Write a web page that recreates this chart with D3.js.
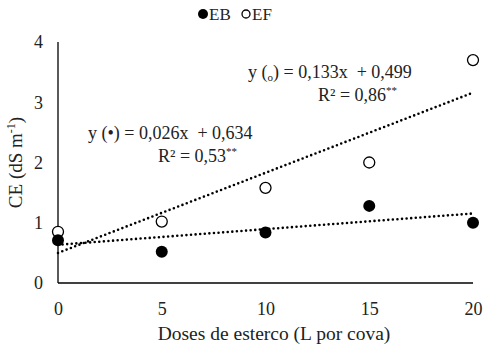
<!DOCTYPE html>
<html>
<head>
<meta charset="utf-8">
<script src="https://cdn.jsdelivr.net/npm/d3@7"></script>
<style>
  html, body { margin: 0; padding: 0; background: #fff; }
  svg { display: block; font-family: "Liberation Serif", "Times New Roman", Times, serif; }
</style>
</head>
<body>
<svg id="chart" width="485" height="344"></svg>
<script>
// Doses of manure (L per pit)
const doses = [0, 5, 10, 15, 20];
// Electrical conductivity, dS m-1
const ebValues = [0.71, 0.52, 0.84, 1.28, 1.00];
const efValues = [0.85, 1.02, 1.58, 2.00, 3.70];
// Linear fits: [slope, intercept]
const ebFit = [0.026, 0.634];
const efFit = [0.133, 0.499];
const ebR2 = "0,53";
const efR2 = "0,86";
const xTicks = [0, 5, 10, 15, 20];
const yTicks = [0, 1, 2, 3, 4];

const FONT = "'Liberation Serif', 'Times New Roman', Times, serif";
const svg = d3.select("#chart");
const x = d3.scaleLinear().domain([0, 20]).range([58, 473]);
const y = d3.scaleLinear().domain([0, 4]).range([283, 42]);

// Axes (no tick marks, labels only)
const xAxis = d3.axisBottom(x).tickValues(xTicks).tickSize(0).tickPadding(19)
  .tickFormat(d3.format("d"));
const gx = svg.append("g").attr("transform", `translate(0,${y(0)})`).call(xAxis);
gx.attr("font-family", FONT);
gx.select(".domain").attr("stroke", "#000").attr("stroke-width", 1.3)
  .attr("d", `M${x(0)},0H${x(20)}`);
gx.selectAll("text").attr("font-size", 18).attr("fill", "#222");

const yAxis = d3.axisLeft(y).tickValues(yTicks).tickSize(0).tickPadding(15)
  .tickFormat(d3.format("d"));
const gy = svg.append("g").attr("transform", `translate(${x(0)},0)`).call(yAxis);
gy.attr("font-family", FONT);
gy.select(".domain").attr("stroke", "#000").attr("stroke-width", 1.3)
  .attr("d", `M0,${y(0)}V${y(4)}`);
gy.selectAll("text").attr("font-size", 18).attr("fill", "#222");

// Axis titles
svg.append("text")
  .attr("x", 274).attr("y", 340)
  .attr("text-anchor", "middle").attr("font-size", 19.5).attr("fill", "#222")
  .text("Doses de esterco (L por cova)");

const yTitle = svg.append("text")
  .attr("transform", `translate(22,${(y(0) + y(4)) / 2}) rotate(-90)`)
  .attr("text-anchor", "middle").attr("font-size", 19).attr("fill", "#222");
yTitle.append("tspan").text("CE (dS m");
yTitle.append("tspan").attr("font-size", 12).attr("dy", -7).text("-1");
yTitle.append("tspan").attr("dy", 7).text(")");

// Dotted trend lines
function trend(fit) {
  return [0, 20].map(d => [x(d), y(fit[0] * d + fit[1])]);
}
const line = d3.line();
[efFit, ebFit].forEach(fit => {
  svg.append("path")
    .attr("d", line(trend(fit)))
    .attr("fill", "none").attr("stroke", "#000")
    .attr("stroke-width", 2.6).attr("stroke-linecap", "round")
    .attr("stroke-dasharray", "0,4.6");
});

// Markers
svg.append("g").selectAll("circle").data(doses).join("circle")
  .attr("cx", d => x(d)).attr("cy", (d, i) => y(efValues[i])).attr("r", 5.5)
  .attr("fill", "#fff").attr("stroke", "#000").attr("stroke-width", 1.3);
svg.append("g").selectAll("circle").data(doses).join("circle")
  .attr("cx", d => x(d)).attr("cy", (d, i) => y(ebValues[i])).attr("r", 6)
  .attr("fill", "#000");

// Legend
const legend = svg.append("g").attr("font-size", 17).attr("fill", "#222");
legend.append("circle").attr("cx", 203).attr("cy", 14).attr("r", 5).attr("fill", "#000");
legend.append("text").attr("x", 209).attr("y", 20).text("EB");
legend.append("circle").attr("cx", 246).attr("cy", 14).attr("r", 4)
  .attr("fill", "none").attr("stroke", "#000").attr("stroke-width", 1.3);
legend.append("text").attr("x", 252).attr("y", 20).text("EF");

// Equation labels
const fmt = v => d3.format(".3f")(v).replace(".", ",");
function equation(xPos, yPos, symbol, small, fit, r2, r2x) {
  const t = svg.append("text").attr("x", xPos).attr("y", yPos)
    .attr("font-size", 18).attr("fill", "#222").attr("xml:space", "preserve");
  t.append("tspan").text("y (");
  if (small) {
    t.append("tspan").attr("font-size", 11).attr("dy", 3).text(symbol);
    t.append("tspan").attr("dy", -3).text(`) = ${fmt(fit[0])}x  + ${fmt(fit[1])}`);
  } else {
    t.append("tspan").text(`${symbol}) = ${fmt(fit[0])}x  + ${fmt(fit[1])}`);
  }
  const r = svg.append("text").attr("x", r2x).attr("y", yPos + 23)
    .attr("font-size", 18).attr("fill", "#222");
  r.append("tspan").text(`R² = ${r2}`);
  r.append("tspan").attr("font-size", 11).attr("dy", -7).text("**");
}
equation(248, 78, "o", true, efFit, efR2, 318);
equation(88, 139, "•", false, ebFit, ebR2, 158);
</script>
</body>
</html>
